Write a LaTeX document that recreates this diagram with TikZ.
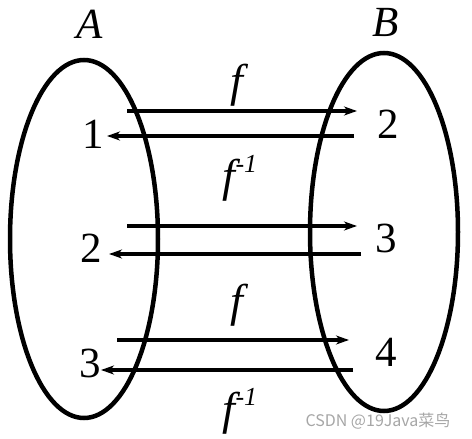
\documentclass[tikz,border=0pt]{standalone}
\usepackage{fontspec}
\setmainfont{Liberation Serif}
\newfontfamily\timesfont{Liberation Serif}
\newfontfamily\cjkfont{Noto Sans CJK SC}
\usetikzlibrary{arrows.meta}
\definecolor{wmGray}{HTML}{A6A6A6}

\begin{document}
\begin{tikzpicture}[x=1pt, y=-1pt,
  set/.style={draw, line width=4.5pt},
  num/.style={inner sep=0pt, font=\timesfont\fontsize{43}{43}\selectfont},
  fn/.style={inner sep=0pt, font=\timesfont\fontsize{46}{46}\selectfont\itshape},
  arr/.style={-{Stealth[length=13pt, width=9pt, inset=4pt]}, line width=3.5pt}]
  \useasboundingbox (0,0) rectangle (472,439);
  \draw[set] (84,239) ellipse [x radius=74, y radius=179];
  \draw[set] (384,232) ellipse [x radius=74, y radius=179];
  \node[num, font=\timesfont\fontsize{43}{43}\selectfont\itshape] (A) at (90,24) {A};
  \node[num, font=\timesfont\fontsize{43}{43}\selectfont\itshape] (B) at (386,22) {B};
  \node[num] (a1) at (93,134) {1};
  \node[num] (a2) at (91,248) {2};
  \node[num] (a3) at (90,363) {3};
  \node[num] (b2) at (388,124) {2};
  \node[num] (b3) at (386,238) {3};
  \node[num] (b4) at (386,352) {4};
  \node[fn] (f1) at (237,85) {f};
  \node[fn] (g1) at (240,178) {f\raisebox{0.42em}{\fontsize{26}{26}\selectfont -1}};
  \node[fn] (f3) at (237,305) {f};
  \node[fn] (g3) at (240,411) {f\raisebox{0.42em}{\fontsize{26}{26}\selectfont -1}};
  \coordinate (r1s) at (127,111); \coordinate (r1e) at (357,111);
  \coordinate (l1s) at (354,136); \coordinate (l1e) at (107,136);
  \coordinate (r2s) at (127,226); \coordinate (r2e) at (357,226);
  \coordinate (l2s) at (361,254); \coordinate (l2e) at (109,254);
  \coordinate (r3s) at (117,340); \coordinate (r3e) at (349,340);
  \coordinate (l3s) at (353,370); \coordinate (l3e) at (101,370);
  \draw[arr] (r1s) -- (r1e); \draw[arr] (l1s) -- (l1e);
  \draw[arr] (r2s) -- (r2e); \draw[arr] (l2s) -- (l2e);
  \draw[arr] (r3s) -- (r3e); \draw[arr] (l3s) -- (l3e);
  \node[inner sep=0pt, text=wmGray, font=\cjkfont\fontsize{16}{16}\selectfont] (wm) at (378,421) {CSDN @19Java菜鸟};
\end{tikzpicture}
\end{document}
